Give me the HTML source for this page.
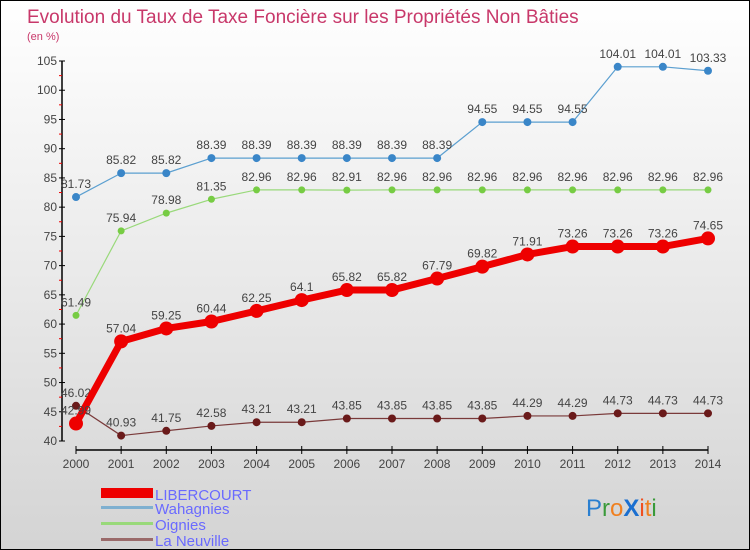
<!DOCTYPE html>
<html><head><meta charset="utf-8"><style>
body{margin:0}
#wrap{position:relative;width:748px;height:548px;border:1px solid #000;background:linear-gradient(#ffffff,#d4d4d4);overflow:hidden;font-family:"Liberation Sans",sans-serif}
</style></head><body>
<div id="wrap">
<svg id="c" width="748" height="548" xmlns="http://www.w3.org/2000/svg">
<text x="26" y="22" font-size="19" fill="#c8386a">Evolution du Taux de Taxe Foncière sur les Propriétés Non Bâties</text>
<text x="26" y="39" font-size="11" fill="#c8386a">(en %)</text>
<g id="axes"></g><g id="series"></g>
<g>
<rect x="100" y="487" width="52" height="10" fill="#ee0000"/>
<text x="154" y="499" font-size="15" fill="#6a6aff">LIBERCOURT</text>
<rect x="100" y="505" width="52" height="3" fill="#7fb0d0"/>
<text x="154" y="513" font-size="15" fill="#6a6aff">Wahagnies</text>
<rect x="100" y="521" width="52" height="3" fill="#99d97a"/>
<text x="154" y="529" font-size="15" fill="#6a6aff">Oignies</text>
<rect x="100" y="537" width="52" height="3" fill="#9a6a6a"/>
<text x="154" y="545" font-size="15" fill="#6a6aff">La Neuville</text>
</g>
<g font-size="24" font-family="'Liberation Sans',sans-serif">
<text x="585" y="515"><tspan fill="#2a7fd0">P</tspan><tspan fill="#3a9a3a">r</tspan><tspan fill="#f08020">o</tspan><tspan fill="#1a6fd0" font-weight="bold">X</tspan><tspan fill="#f05020">i</tspan><tspan fill="#f08020">t</tspan><tspan fill="#3a9a3a">i</tspan></text>
</g>
</svg>
</div>
<script>
const years=[2000,2001,2002,2003,2004,2005,2006,2007,2008,2009,2010,2011,2012,2013,2014];
const libercourt=[42.99,57.04,59.25,60.44,62.25,64.1,65.82,65.82,67.79,69.82,71.91,73.26,73.26,73.26,74.65];
const wahagnies=[81.73,85.82,85.82,88.39,88.39,88.39,88.39,88.39,88.39,94.55,94.55,94.55,104.01,104.01,103.33];
const oignies=[61.49,75.94,78.98,81.35,82.96,82.96,82.91,82.96,82.96,82.96,82.96,82.96,82.96,82.96,82.96];
const laNeuville=[46.02,40.93,41.75,42.58,43.21,43.21,43.85,43.85,43.85,43.85,44.29,44.29,44.73,44.73,44.73];
const yTicks=[40,45,50,55,60,65,70,75,80,85,90,95,100,105];
const NS="http://www.w3.org/2000/svg";
function X(i){return 75+i*(707-75)/(years.length-1);}
function Y(v){return 440-(v-40)*(380/65);}
function mk(t,a,p){const e=document.createElementNS(NS,t);for(const k in a)e.setAttribute(k,a[k]);p.appendChild(e);return e;}
const ax=document.getElementById('axes');
let yl=mk('line',{x1:61,y1:Y(105),x2:61,y2:Y(40),stroke:'#000','stroke-width':1.5},ax);


yTicks.forEach(v=>{
 mk('line',{x1:58,y1:Y(v),x2:64,y2:Y(v),stroke:'#000'},ax);
 if(v<105)mk('line',{x1:58,y1:Y(v+2.5),x2:61,y2:Y(v+2.5),stroke:'#e00'},ax);
 const t=mk('text',{x:56,y:Y(v)+4,'font-size':12,fill:'#444','text-anchor':'end'},ax);t.textContent=v;
 
 
});
let xl=mk('line',{x1:X(0),y1:449,x2:X(14),y2:449,stroke:'#000','stroke-width':1.5},ax);


years.forEach((y,i)=>{
 mk('line',{x1:X(i),y1:445,x2:X(i),y2:453,stroke:'#000'},ax);
 const t=mk('text',{x:X(i),y:467,'font-size':12,fill:'#444','text-anchor':'middle'},ax);t.textContent=y;
 
 
});
const sg=document.getElementById('series');
function series(name,data,color,dot,w,r,fs){
 const g=mk('g',{},sg);
 
 
 const pts=data.map((v,i)=>X(i)+','+Y(v)).join(' ');
 mk('polyline',{points:pts,fill:'none',stroke:color,'stroke-width':w,'stroke-linejoin':'round'},g);
 data.forEach((v,i)=>{
  const c=mk('circle',{cx:X(i),cy:Y(v),r:r,fill:dot},g);
  
  
  const t=mk('text',{x:X(i),y:Y(v)-9,'font-size':fs,fill:'#444','text-anchor':'middle'},g);t.textContent=v;
 });
}
series('la-neuville',laNeuville,'#7a3a3a','#6a1a1a',1.2,4,12);
series('oignies',oignies,'#99d97a','#77cc44',1.2,3.5,12);
series('wahagnies',wahagnies,'#5b9fd0','#3a86c8',1.2,4,12);
series('libercourt',libercourt,'#ee0000','#ee0000',7,7,12);
</script>
</body></html>
